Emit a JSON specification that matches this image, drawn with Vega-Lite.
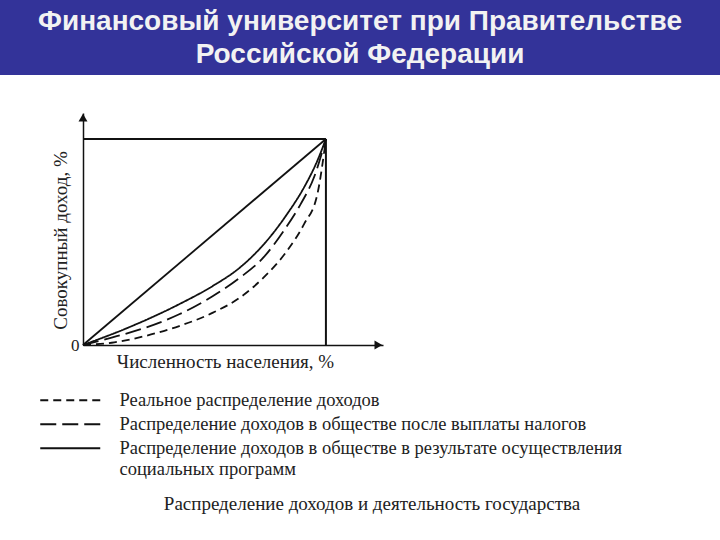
{
  "$schema": "https://vega.github.io/schema/vega-lite/v6.json",
  "width": 720,
  "height": 480,
  "padding": 0,
  "background": "white",
  "config": {"view": {"stroke": null}, "font": "Liberation Serif"},
  "title": {
    "text": "Распределение доходов и деятельность государства",
    "orient": "bottom",
    "anchor": "middle",
    "font": "Liberation Serif",
    "fontSize": 19,
    "fontWeight": "normal",
    "color": "#222",
    "offset": 15,
    "dx": 12
  },
  "layer": [
    {
      "data": {"values": [{"band": "header"}]},
      "mark": {"type": "rect", "color": "#333399"},
      "encoding": {
        "y": {"field": "band", "type": "nominal", "axis": null,
              "scale": {"range": [0, 75], "paddingInner": 0, "paddingOuter": 0}}
      }
    },
    {
      "data": {"values": [
        {"line": 1, "text": "Финансовый университет при Правительстве"},
        {"line": 2, "text": "Российской  Федерации"}
      ]},
      "mark": {"type": "text", "color": "#f2f2f2", "font": "Liberation Sans", "fontWeight": "bold", "fontSize": 28, "baseline": "middle"},
      "encoding": {
        "y": {"field": "line", "type": "ordinal", "axis": null,
              "scale": {"type": "point", "range": [22, 55], "padding": 0}},
        "text": {"field": "text"}
      }
    },
    {
      "encoding": {
        "x": {
          "field": "x", "type": "quantitative",
          "scale": {"domain": [0, 123.5], "range": [83, 383], "nice": false, "zero": false},
          "axis": {
            "title": "Численность населения, %", "offset": -135,
            "labels": false, "ticks": false, "grid": false,
            "domainColor": "#111", "domainWidth": 1.5,
            "titleFont": "Liberation Serif", "titleFontSize": 19, "titleFontWeight": "normal",
            "titleColor": "#222", "titlePadding": 7, "titleX": 225
          }
        },
        "y": {
          "field": "y", "type": "quantitative",
          "scale": {"domain": [0, 112.6], "range": [345, 113], "nice": false, "zero": false},
          "axis": {
            "title": "Совокупный доход, %", "offset": -83, "values": [0],
            "ticks": false, "grid": false,
            "labelFont": "Liberation Serif", "labelFontSize": 17, "labelColor": "#222", "labelPadding": 4,
            "domainColor": "#111", "domainWidth": 1.5,
            "titleFont": "Liberation Serif", "titleFontSize": 19, "titleFontWeight": "normal",
            "titleColor": "#222", "titlePadding": 0, "titleY": 240
          }
        }
      },
      "layer": [
        {
          "data": {"values": [
            {"x": 0, "y": 100, "x2": 100, "y2": 100},
            {"x": 100, "y": 0, "x2": 100, "y2": 100}
          ]},
          "mark": {"type": "rule", "color": "#111", "strokeWidth": 2},
          "encoding": {"x2": {"field": "x2"}, "y2": {"field": "y2"}}
        },
        {
          "data": {"values": [{"x": 0, "y": 0}, {"x": 100, "y": 100}]},
          "mark": {"type": "line", "color": "#111", "strokeWidth": 1.8},
          "encoding": {}
        },
        {
          "data": {"values": [
            {"series": "Реальное распределение доходов", "x": 0, "y": 0},
            {"series": "Реальное распределение доходов", "x": 11.8, "y": 1.1},
            {"series": "Реальное распределение доходов", "x": 25.7, "y": 4.4},
            {"series": "Реальное распределение доходов", "x": 39.6, "y": 9.2},
            {"series": "Реальное распределение доходов", "x": 53.5, "y": 15.7},
            {"series": "Реальное распределение доходов", "x": 64.6, "y": 23.0},
            {"series": "Реальное распределение доходов", "x": 74.3, "y": 32.7},
            {"series": "Реальное распределение доходов", "x": 84.0, "y": 45.7},
            {"series": "Реальное распределение доходов", "x": 91.0, "y": 58.7},
            {"series": "Реальное распределение доходов", "x": 96.5, "y": 73.3},
            {"series": "Реальное распределение доходов", "x": 100, "y": 100},
            {"series": "Распределение доходов в обществе после выплаты налогов", "x": 0, "y": 0},
            {"series": "Распределение доходов в обществе после выплаты налогов", "x": 11.8, "y": 3.6},
            {"series": "Распределение доходов в обществе после выплаты налогов", "x": 25.7, "y": 8.4},
            {"series": "Распределение доходов в обществе после выплаты налогов", "x": 39.6, "y": 14.9},
            {"series": "Распределение доходов в обществе после выплаты налогов", "x": 53.5, "y": 23.8},
            {"series": "Распределение доходов в обществе после выплаты налогов", "x": 64.6, "y": 32.7},
            {"series": "Распределение доходов в обществе после выплаты налогов", "x": 74.3, "y": 42.5},
            {"series": "Распределение доходов в обществе после выплаты налогов", "x": 82.6, "y": 55.4},
            {"series": "Распределение доходов в обществе после выплаты налогов", "x": 89.6, "y": 68.4},
            {"series": "Распределение доходов в обществе после выплаты налогов", "x": 95.1, "y": 81.4},
            {"series": "Распределение доходов в обществе после выплаты налогов", "x": 100, "y": 100},
            {"series": "Распределение доходов в обществе в результате осуществления социальных программ", "x": 0, "y": 0},
            {"series": "Распределение доходов в обществе в результате осуществления социальных программ", "x": 18.75, "y": 8.5},
            {"series": "Распределение доходов в обществе в результате осуществления социальных программ", "x": 39.6, "y": 19.8},
            {"series": "Распределение доходов в обществе в результате осуществления социальных программ", "x": 53.5, "y": 28.7},
            {"series": "Распределение доходов в обществе в результате осуществления социальных программ", "x": 64.6, "y": 37.6},
            {"series": "Распределение доходов в обществе в результате осуществления социальных программ", "x": 75.7, "y": 50.6},
            {"series": "Распределение доходов в обществе в результате осуществления социальных программ", "x": 84.0, "y": 63.5},
            {"series": "Распределение доходов в обществе в результате осуществления социальных программ", "x": 91.0, "y": 76.5},
            {"series": "Распределение доходов в обществе в результате осуществления социальных программ", "x": 96.5, "y": 89.5},
            {"series": "Распределение доходов в обществе в результате осуществления социальных программ", "x": 100, "y": 100}
          ]},
          "mark": {"type": "line", "color": "#111", "strokeWidth": 1.8, "interpolate": "monotone"},
          "encoding": {
            "strokeDash": {
              "field": "series", "type": "nominal",
              "scale": {
                "domain": [
                  "Реальное распределение доходов",
                  "Распределение доходов в обществе после выплаты налогов",
                  "Распределение доходов в обществе в результате осуществления социальных программ"
                ],
                "range": [[8, 5], [16, 6], [1, 0]]
              },
              "legend": {
                "orient": "none", "legendX": 61, "legendY": 391, "title": null,
                "symbolType": "M-6,0H6", "symbolSize": 100, "symbolStrokeWidth": 1.8,
                "symbolStrokeColor": "#111",
                "labelFont": "Liberation Serif", "labelFontSize": 18.5, "labelColor": "#222",
                "labelLimit": 700, "labelOffset": 40, "rowPadding": 5, "labelLineHeight": 23,
                "labelExpr": "datum.label == 'Распределение доходов в обществе в результате осуществления социальных программ' ? ['Распределение доходов в обществе в результате осуществления', 'социальных программ'] : datum.label"
              }
            }
          }
        },
        {
          "data": {"values": [
            {"dir": "right", "x": 121.6, "y": 0},
            {"dir": "up", "x": 0, "y": 110.4}
          ]},
          "mark": {"type": "point", "filled": true, "color": "#111", "size": 80, "opacity": 1},
          "encoding": {
            "shape": {
              "field": "dir", "type": "nominal",
              "scale": {"domain": ["right", "up"], "range": ["triangle-right", "triangle-up"]},
              "legend": null
            }
          }
        }
      ]
    }
  ],
  "resolve": {"scale": {"y": "independent"}}
}
